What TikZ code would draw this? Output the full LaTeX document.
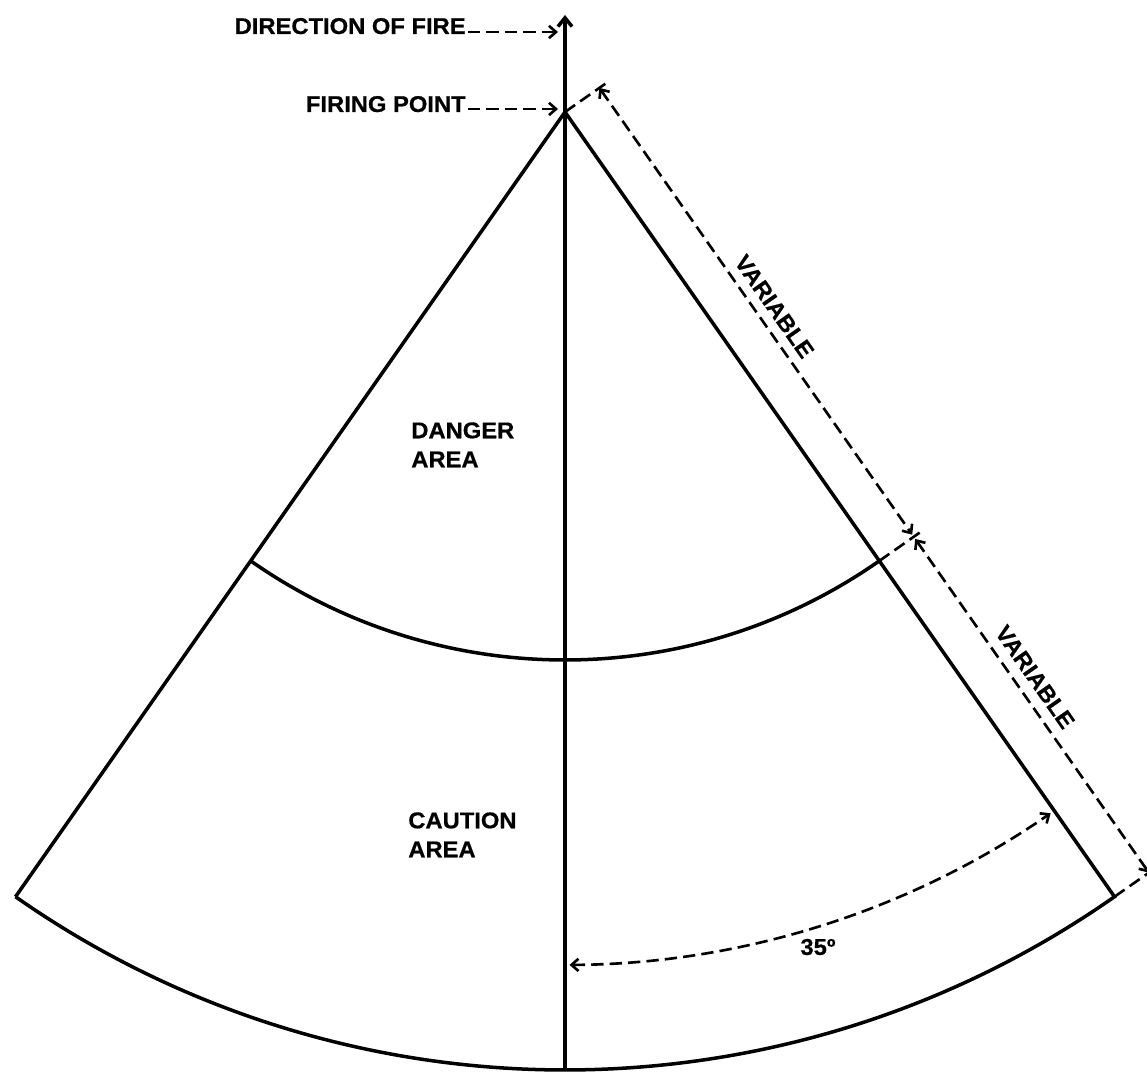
\documentclass[tikz,border=0pt]{standalone}
\usepackage{fontspec}
\setmainfont{Liberation Sans}[FakeStretch=1.04, BoldFeatures={FakeBold=0.6}]
\usetikzlibrary{arrows.meta, calc}
\tikzset{
  edge/.style={line width=2pt, black},
  dimline/.style={line width=1.5pt, dash pattern=on 7pt off 3.5pt},
  dimarr/.style={dimline, {Straight Barb[length=4pt, width=7pt]}-{Straight Barb[length=4pt, width=7pt]}},
  ptr/.style={dimline, -{Straight Barb[length=4pt, width=7pt]}},
  lbl/.style={font=\fontsize{13}{16.5}\selectfont\bfseries, align=left, inner sep=0pt},
}
\begin{document}
\begin{tikzpicture}[x=0.02cm, y=0.02cm]
  \useasboundingbox (0,0) rectangle (1147,1072);
  % sector points
  \coordinate (fp) at (565,960);
  \coordinate (top) at (565,1057);
  \coordinate (bottom) at ($(fp)+(-90:958)$);
  \coordinate (outerL) at ($(fp)+(-125:958)$);
  \coordinate (outerR) at ($(fp)+(-55:958)$);
  \coordinate (innerR) at ($(fp)+(-55:548)$);

  % sector
  \draw[edge] (outerL) -- (fp) -- (outerR) arc[start angle=-55, end angle=-125, radius=958];
  \draw[edge] (innerR) arc[start angle=-55, end angle=-125, radius=548];
  \draw[edge, -{Straight Barb[length=5pt, width=8pt]}] (bottom) -- (top);

  % area labels
  \node[lbl, anchor=north west] (danger) at (411,650) {DANGER\\AREA};
  \node[lbl, anchor=north west] (caution) at (408,260) {CAUTION\\AREA};

  % pointers
  \node[lbl, anchor=base east] (dof) at (466,1038) {DIRECTION OF FIRE};
  \node[lbl, anchor=base east] (firing) at (466,960) {FIRING POINT};
  \coordinate (doftip) at (558,1040);
  \coordinate (fptip) at (558,963);
  \draw[ptr] ($(dof.base east)+(2,2)$) -- (doftip);
  \draw[ptr] ($(firing.base east)+(2,3)$) -- (fptip);

  % length dimensions
  \coordinate (extA) at ($(fp)+(35:50)$);
  \coordinate (extB) at ($(innerR)+(35:50)$);
  \coordinate (extC) at ($(outerR)+(35:50)$);
  \coordinate (dimA) at ($(fp)+(35:42)$);
  \coordinate (dimB) at ($(innerR)+(35:42)$);
  \coordinate (dimC) at ($(outerR)+(35:42)$);
  \draw[dimline] (fp) -- (extA);
  \draw[dimline] (innerR) -- (extB);
  \draw[dimline] (outerR) -- (extC);
  \draw[dimarr, shorten >=1.5pt] (dimA) -- (dimB);
  \draw[dimarr, shorten <=1.5pt] (dimB) -- (dimC);
  \node[lbl, rotate=-55] (var1) at ($(fp)!0.51!(innerR)+(35:60)$) {VARIABLE};
  \node[lbl, rotate=-55] (var2) at ($(innerR)!0.45!(outerR)+(35:61)$) {VARIABLE};

  % angle dimension
  \coordinate (angA) at ($(fp)+(-89.7:853)$);
  \draw[dimarr] (angA) arc[start angle=-89.7, end angle=-55.3, radius=853];
  \node[lbl] (angle) at (818,125) {35º};
\end{tikzpicture}
\end{document}
